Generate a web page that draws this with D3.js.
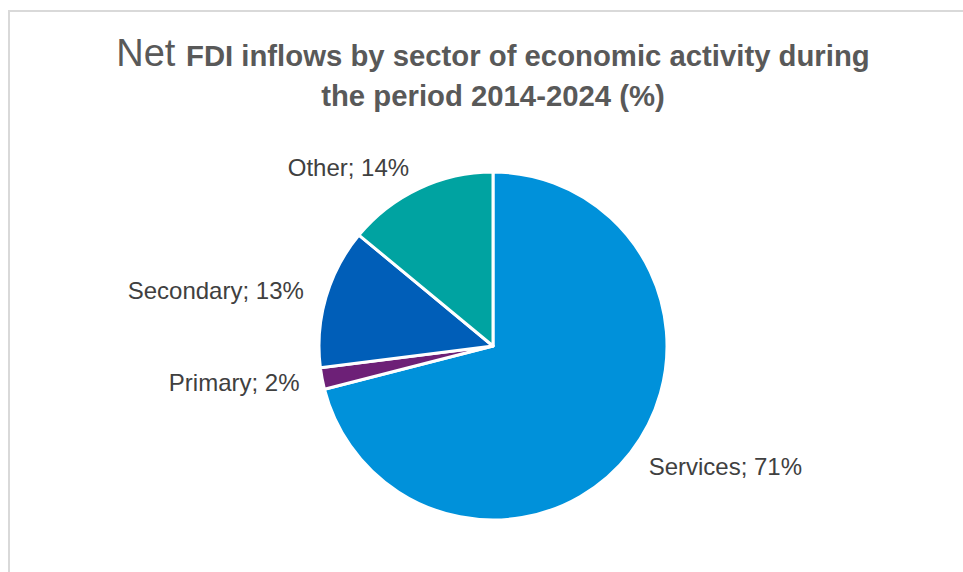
<!DOCTYPE html>
<html>
<head>
<meta charset="utf-8">
<script src="https://cdn.jsdelivr.net/npm/d3@7"></script>
<style>
  html, body { margin: 0; padding: 0; background: #fff; }
  svg { display: block; }
</style>
</head>
<body>
<svg id="chart" width="963" height="572"></svg>
<script>
// Sector shares of net FDI inflows, 2014-2024 (%), clockwise from 12 o'clock
const sectors = ["Services", "Primary", "Secondary", "Other"];
const shares = [71, 2, 13, 14];
const colors = ["#0091DA", "#6D2077", "#005EB8", "#00A3A1"];

const width = 963, height = 572;
const cx = 493, cy = 346, radius = 174, labelRadius = 197;

const svg = d3.select("#chart");

// Chart frame
svg.append("rect")
  .attr("x", 9).attr("y", 11)
  .attr("width", 980).attr("height", 600)
  .attr("fill", "#fff")
  .attr("stroke", "#d9d9d9")
  .attr("stroke-width", 2);

// Title: "Net" in a larger regular weight, the rest bold
const title = svg.append("text")
  .attr("text-anchor", "middle")
  .attr("font-family", "Liberation Sans, Arial, sans-serif")
  .attr("fill", "#595959");
const line1 = title.append("tspan").attr("x", 493).attr("y", 66);
line1.append("tspan").attr("font-size", 38).text("Net ");
line1.append("tspan").attr("font-size", 29.3).attr("font-weight", "bold")
  .text("FDI inflows by sector of economic activity during");
title.append("tspan").attr("x", 493).attr("y", 106)
  .attr("font-size", 29.3).attr("font-weight", "bold")
  .text("the period 2014-2024 (%)");

const data = sectors.map((s, i) => ({ sector: s, value: shares[i], color: colors[i] }));

const pie = d3.pie().value(d => d.value).sort(null);
const arc = d3.arc().innerRadius(0).outerRadius(radius);
const labelArc = d3.arc().innerRadius(labelRadius).outerRadius(labelRadius);

const g = svg.append("g").attr("transform", `translate(${cx},${cy})`);
const arcs = pie(data);

g.selectAll("path.slice")
  .data(arcs)
  .join("path")
  .attr("class", "slice")
  .attr("d", arc)
  .attr("fill", d => d.data.color)
  .attr("stroke", "#fff")
  .attr("stroke-width", 3)
  .attr("stroke-linejoin", "round");

g.selectAll("text.label")
  .data(arcs)
  .join("text")
  .attr("class", "label")
  .attr("transform", d => `translate(${labelArc.centroid(d)})`)
  .attr("text-anchor", d => labelArc.centroid(d)[0] < 0 ? "end" : "start")
  .attr("dy", "0.35em")
  .attr("font-family", "Liberation Sans, Arial, sans-serif")
  .attr("font-size", 24)
  .attr("fill", "#404040")
  .text(d => `${d.data.sector}; ${d.data.value}%`);
</script>
</body>
</html>
